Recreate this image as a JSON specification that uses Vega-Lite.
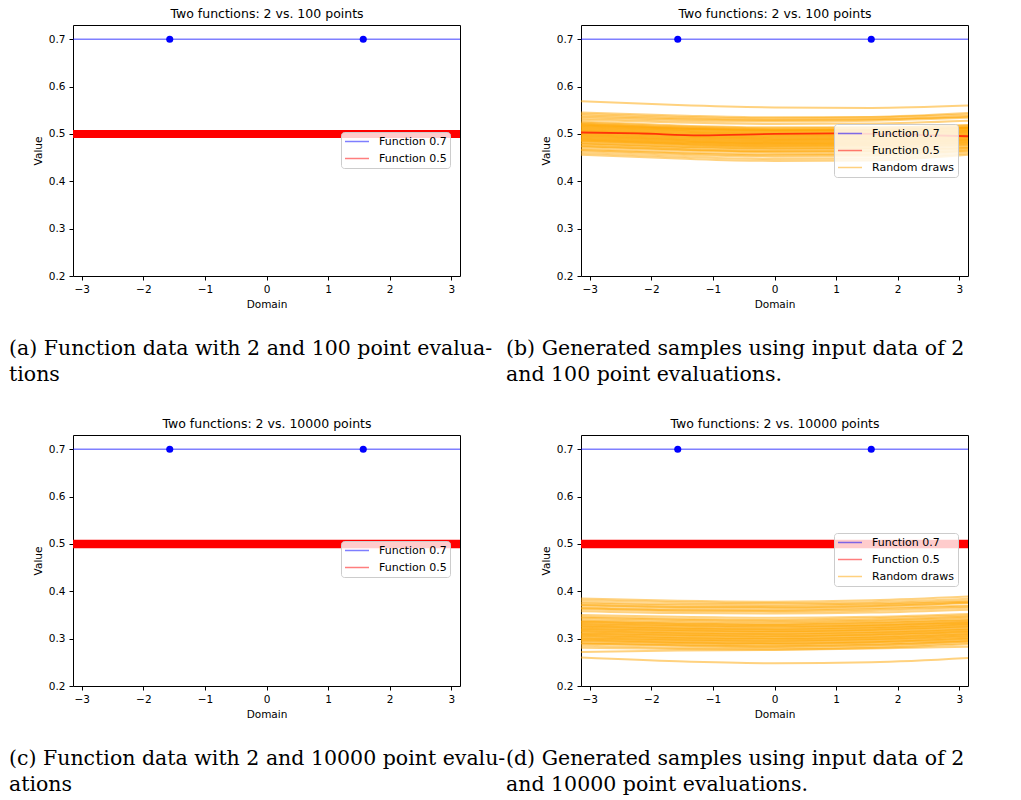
{
"$schema": "https://vega.github.io/schema/vega-lite/v6.json",
"background": "white",
"padding": {"left": 8, "top": 6, "right": 0, "bottom": 0},
"config": {
  "font": "DejaVu Sans",
  "view": {"stroke": "#000000", "strokeWidth": 1},
  "axis": {"domain": false, "grid": false, "tickColor": "#000000", "tickSize": 4, "tickWidth": 1, "labelPadding": 4, "labelFont": "DejaVu Sans", "labelFontSize": 10.5, "labelColor": "#000000", "titleFont": "DejaVu Sans", "titleFontSize": 10.5, "titleFontWeight": "normal", "titleColor": "#000000", "titlePadding": 5},
  "legend": {"fillColor": "rgba(255,255,255,0.8)", "strokeColor": "#cccccc", "cornerRadius": 3, "padding": 3, "symbolType": "stroke", "symbolSize": 576, "symbolStrokeWidth": 1.5, "symbolOpacity": 0.5, "labelFont": "DejaVu Sans", "labelFontSize": 11, "labelColor": "#000000", "labelOffset": 9, "rowPadding": 4, "clipHeight": 13, "labelLimit": 300},
  "title": {"font": "DejaVu Serif", "fontSize": 20.5, "fontWeight": "normal", "color": "#000000", "orient": "bottom", "anchor": "start", "frame": "group", "lineHeight": 26, "offset": 29}
},
"datasets": {
  "blue07": [{"x": -3.1416, "y": 0.7}, {"x": 3.1416, "y": 0.7}],
  "pts07": [{"x": -1.5708, "y": 0.7}, {"x": 1.5708, "y": 0.7}],
  "red05": [{"x": -3.1416, "y": 0.5}, {"x": 3.1416, "y": 0.5}],
  "red_b": [{"x": -3.1416, "y": 0.503}, {"x": -2.2, "y": 0.501}, {"x": -1.2, "y": 0.497}, {"x": 0, "y": 0.5}, {"x": 1, "y": 0.501}, {"x": 2, "y": 0.499}, {"x": 3.1416, "y": 0.495}],
  "draws_b": [
{"d":1,"x":-3.1416,"y":0.569},{"d":1,"x":-1.5708,"y":0.561},{"d":1,"x":0,"y":0.556},{"d":1,"x":1.5708,"y":0.555},{"d":1,"x":3.1416,"y":0.56},
{"d":2,"x":-3.1416,"y":0.545},{"d":2,"x":-1.5708,"y":0.539},{"d":2,"x":0,"y":0.535},{"d":2,"x":1.5708,"y":0.536},{"d":2,"x":3.1416,"y":0.544},
{"d":3,"x":-3.1416,"y":0.542},{"d":3,"x":-1.5708,"y":0.536},{"d":3,"x":0,"y":0.533},{"d":3,"x":1.5708,"y":0.535},{"d":3,"x":3.1416,"y":0.541},
{"d":4,"x":-3.1416,"y":0.539},{"d":4,"x":-1.5708,"y":0.533},{"d":4,"x":0,"y":0.53},{"d":4,"x":1.5708,"y":0.531},{"d":4,"x":3.1416,"y":0.536},
{"d":5,"x":-3.1416,"y":0.536},{"d":5,"x":-1.5708,"y":0.531},{"d":5,"x":0,"y":0.529},{"d":5,"x":1.5708,"y":0.531},{"d":5,"x":3.1416,"y":0.538},
{"d":6,"x":-3.1416,"y":0.533},{"d":6,"x":-1.5708,"y":0.528},{"d":6,"x":0,"y":0.526},{"d":6,"x":1.5708,"y":0.528},{"d":6,"x":3.1416,"y":0.534},
{"d":7,"x":-3.1416,"y":0.53},{"d":7,"x":-1.5708,"y":0.524},{"d":7,"x":0,"y":0.521},{"d":7,"x":1.5708,"y":0.522},{"d":7,"x":3.1416,"y":0.528},
{"d":8,"x":-3.1416,"y":0.526},{"d":8,"x":-1.5708,"y":0.518},{"d":8,"x":0,"y":0.514},{"d":8,"x":1.5708,"y":0.514},{"d":8,"x":3.1416,"y":0.518},
{"d":9,"x":-3.1416,"y":0.524},{"d":9,"x":-1.5708,"y":0.516},{"d":9,"x":0,"y":0.512},{"d":9,"x":1.5708,"y":0.513},{"d":9,"x":3.1416,"y":0.519},
{"d":10,"x":-3.1416,"y":0.522},{"d":10,"x":-1.5708,"y":0.514},{"d":10,"x":0,"y":0.51},{"d":10,"x":1.5708,"y":0.51},{"d":10,"x":3.1416,"y":0.515},
{"d":11,"x":-3.1416,"y":0.52},{"d":11,"x":-1.5708,"y":0.512},{"d":11,"x":0,"y":0.508},{"d":11,"x":1.5708,"y":0.509},{"d":11,"x":3.1416,"y":0.514},
{"d":12,"x":-3.1416,"y":0.518},{"d":12,"x":-1.5708,"y":0.511},{"d":12,"x":0,"y":0.507},{"d":12,"x":1.5708,"y":0.508},{"d":12,"x":3.1416,"y":0.513},
{"d":13,"x":-3.1416,"y":0.516},{"d":13,"x":-1.5708,"y":0.509},{"d":13,"x":0,"y":0.505},{"d":13,"x":1.5708,"y":0.506},{"d":13,"x":3.1416,"y":0.512},
{"d":14,"x":-3.1416,"y":0.514},{"d":14,"x":-1.5708,"y":0.507},{"d":14,"x":0,"y":0.503},{"d":14,"x":1.5708,"y":0.504},{"d":14,"x":3.1416,"y":0.51},
{"d":15,"x":-3.1416,"y":0.512},{"d":15,"x":-1.5708,"y":0.505},{"d":15,"x":0,"y":0.501},{"d":15,"x":1.5708,"y":0.502},{"d":15,"x":3.1416,"y":0.508},
{"d":16,"x":-3.1416,"y":0.51},{"d":16,"x":-1.5708,"y":0.503},{"d":16,"x":0,"y":0.499},{"d":16,"x":1.5708,"y":0.5},{"d":16,"x":3.1416,"y":0.506},
{"d":17,"x":-3.1416,"y":0.508},{"d":17,"x":-1.5708,"y":0.501},{"d":17,"x":0,"y":0.497},{"d":17,"x":1.5708,"y":0.498},{"d":17,"x":3.1416,"y":0.505},
{"d":18,"x":-3.1416,"y":0.506},{"d":18,"x":-1.5708,"y":0.499},{"d":18,"x":0,"y":0.495},{"d":18,"x":1.5708,"y":0.496},{"d":18,"x":3.1416,"y":0.503},
{"d":19,"x":-3.1416,"y":0.504},{"d":19,"x":-1.5708,"y":0.497},{"d":19,"x":0,"y":0.493},{"d":19,"x":1.5708,"y":0.494},{"d":19,"x":3.1416,"y":0.501},
{"d":20,"x":-3.1416,"y":0.502},{"d":20,"x":-1.5708,"y":0.495},{"d":20,"x":0,"y":0.491},{"d":20,"x":1.5708,"y":0.492},{"d":20,"x":3.1416,"y":0.499},
{"d":21,"x":-3.1416,"y":0.5},{"d":21,"x":-1.5708,"y":0.493},{"d":21,"x":0,"y":0.489},{"d":21,"x":1.5708,"y":0.49},{"d":21,"x":3.1416,"y":0.497},
{"d":22,"x":-3.1416,"y":0.498},{"d":22,"x":-1.5708,"y":0.491},{"d":22,"x":0,"y":0.487},{"d":22,"x":1.5708,"y":0.488},{"d":22,"x":3.1416,"y":0.495},
{"d":23,"x":-3.1416,"y":0.496},{"d":23,"x":-1.5708,"y":0.489},{"d":23,"x":0,"y":0.485},{"d":23,"x":1.5708,"y":0.486},{"d":23,"x":3.1416,"y":0.493},
{"d":24,"x":-3.1416,"y":0.494},{"d":24,"x":-1.5708,"y":0.487},{"d":24,"x":0,"y":0.483},{"d":24,"x":1.5708,"y":0.484},{"d":24,"x":3.1416,"y":0.491},
{"d":25,"x":-3.1416,"y":0.492},{"d":25,"x":-1.5708,"y":0.485},{"d":25,"x":0,"y":0.481},{"d":25,"x":1.5708,"y":0.482},{"d":25,"x":3.1416,"y":0.489},
{"d":26,"x":-3.1416,"y":0.49},{"d":26,"x":-1.5708,"y":0.483},{"d":26,"x":0,"y":0.479},{"d":26,"x":1.5708,"y":0.48},{"d":26,"x":3.1416,"y":0.487},
{"d":27,"x":-3.1416,"y":0.488},{"d":27,"x":-1.5708,"y":0.481},{"d":27,"x":0,"y":0.477},{"d":27,"x":1.5708,"y":0.478},{"d":27,"x":3.1416,"y":0.485},
{"d":28,"x":-3.1416,"y":0.486},{"d":28,"x":-1.5708,"y":0.479},{"d":28,"x":0,"y":0.475},{"d":28,"x":1.5708,"y":0.476},{"d":28,"x":3.1416,"y":0.483},
{"d":29,"x":-3.1416,"y":0.484},{"d":29,"x":-1.5708,"y":0.477},{"d":29,"x":0,"y":0.473},{"d":29,"x":1.5708,"y":0.474},{"d":29,"x":3.1416,"y":0.481},
{"d":30,"x":-3.1416,"y":0.481},{"d":30,"x":-1.5708,"y":0.474},{"d":30,"x":0,"y":0.47},{"d":30,"x":1.5708,"y":0.471},{"d":30,"x":3.1416,"y":0.479},
{"d":31,"x":-3.1416,"y":0.478},{"d":31,"x":-1.5708,"y":0.471},{"d":31,"x":0,"y":0.467},{"d":31,"x":1.5708,"y":0.468},{"d":31,"x":3.1416,"y":0.476},
{"d":32,"x":-3.1416,"y":0.475},{"d":32,"x":-1.5708,"y":0.468},{"d":32,"x":0,"y":0.464},{"d":32,"x":1.5708,"y":0.465},{"d":32,"x":3.1416,"y":0.473},
{"d":33,"x":-3.1416,"y":0.472},{"d":33,"x":-1.5708,"y":0.465},{"d":33,"x":0,"y":0.461},{"d":33,"x":1.5708,"y":0.462},{"d":33,"x":3.1416,"y":0.47},
{"d":34,"x":-3.1416,"y":0.468},{"d":34,"x":-1.5708,"y":0.461},{"d":34,"x":0,"y":0.457},{"d":34,"x":1.5708,"y":0.458},{"d":34,"x":3.1416,"y":0.467},
{"d":35,"x":-3.1416,"y":0.464},{"d":35,"x":-1.5708,"y":0.456},{"d":35,"x":0,"y":0.452},{"d":35,"x":1.5708,"y":0.453},{"d":35,"x":3.1416,"y":0.463},
{"d":36,"x":-3.1416,"y":0.46},{"d":36,"x":-1.5708,"y":0.452},{"d":36,"x":0,"y":0.447},{"d":36,"x":1.5708,"y":0.448},{"d":36,"x":3.1416,"y":0.459},
{"d":37,"x":-3.1416,"y":0.456},{"d":37,"x":-1.5708,"y":0.448},{"d":37,"x":0,"y":0.443},{"d":37,"x":1.5708,"y":0.444},{"d":37,"x":3.1416,"y":0.456},
{"d":38,"x":-3.1416,"y":0.521},{"d":38,"x":-1.5708,"y":0.513},{"d":38,"x":0,"y":0.509},{"d":38,"x":1.5708,"y":0.509},{"d":38,"x":3.1416,"y":0.513},
{"d":39,"x":-3.1416,"y":0.517},{"d":39,"x":-1.5708,"y":0.51},{"d":39,"x":0,"y":0.506},{"d":39,"x":1.5708,"y":0.507},{"d":39,"x":3.1416,"y":0.512},
{"d":40,"x":-3.1416,"y":0.513},{"d":40,"x":-1.5708,"y":0.506},{"d":40,"x":0,"y":0.502},{"d":40,"x":1.5708,"y":0.503},{"d":40,"x":3.1416,"y":0.509},
{"d":41,"x":-3.1416,"y":0.509},{"d":41,"x":-1.5708,"y":0.502},{"d":41,"x":0,"y":0.498},{"d":41,"x":1.5708,"y":0.499},{"d":41,"x":3.1416,"y":0.505},
{"d":42,"x":-3.1416,"y":0.505},{"d":42,"x":-1.5708,"y":0.498},{"d":42,"x":0,"y":0.494},{"d":42,"x":1.5708,"y":0.495},{"d":42,"x":3.1416,"y":0.502},
{"d":43,"x":-3.1416,"y":0.501},{"d":43,"x":-1.5708,"y":0.494},{"d":43,"x":0,"y":0.49},{"d":43,"x":1.5708,"y":0.491},{"d":43,"x":3.1416,"y":0.498},
{"d":44,"x":-3.1416,"y":0.497},{"d":44,"x":-1.5708,"y":0.49},{"d":44,"x":0,"y":0.486},{"d":44,"x":1.5708,"y":0.487},{"d":44,"x":3.1416,"y":0.494},
{"d":45,"x":-3.1416,"y":0.493},{"d":45,"x":-1.5708,"y":0.486},{"d":45,"x":0,"y":0.482},{"d":45,"x":1.5708,"y":0.483},{"d":45,"x":3.1416,"y":0.49},
{"d":46,"x":-3.1416,"y":0.489},{"d":46,"x":-1.5708,"y":0.482},{"d":46,"x":0,"y":0.478},{"d":46,"x":1.5708,"y":0.479},{"d":46,"x":3.1416,"y":0.486},
{"d":47,"x":-3.1416,"y":0.485},{"d":47,"x":-1.5708,"y":0.478},{"d":47,"x":0,"y":0.474},{"d":47,"x":1.5708,"y":0.475},{"d":47,"x":3.1416,"y":0.482},
{"d":48,"x":-3.1416,"y":0.48},{"d":48,"x":-1.5708,"y":0.473},{"d":48,"x":0,"y":0.469},{"d":48,"x":1.5708,"y":0.47},{"d":48,"x":3.1416,"y":0.477},
{"d":49,"x":-3.1416,"y":0.474},{"d":49,"x":-1.5708,"y":0.467},{"d":49,"x":0,"y":0.463},{"d":49,"x":1.5708,"y":0.464},{"d":49,"x":3.1416,"y":0.471},
{"d":50,"x":-3.1416,"y":0.466},{"d":50,"x":-1.5708,"y":0.459},{"d":50,"x":0,"y":0.455},{"d":50,"x":1.5708,"y":0.456},{"d":50,"x":3.1416,"y":0.465}
  ],
  "draws_d": [
{"d":1,"x":-3.1416,"y":0.385},{"d":1,"x":-1.5708,"y":0.38},{"d":1,"x":0,"y":0.378},{"d":1,"x":1.5708,"y":0.381},{"d":1,"x":3.1416,"y":0.389},
{"d":2,"x":-3.1416,"y":0.381},{"d":2,"x":-1.5708,"y":0.377},{"d":2,"x":0,"y":0.375},{"d":2,"x":1.5708,"y":0.377},{"d":2,"x":3.1416,"y":0.384},
{"d":3,"x":-3.1416,"y":0.377},{"d":3,"x":-1.5708,"y":0.373},{"d":3,"x":0,"y":0.372},{"d":3,"x":1.5708,"y":0.374},{"d":3,"x":3.1416,"y":0.38},
{"d":4,"x":-3.1416,"y":0.374},{"d":4,"x":-1.5708,"y":0.37},{"d":4,"x":0,"y":0.369},{"d":4,"x":1.5708,"y":0.372},{"d":4,"x":3.1416,"y":0.378},
{"d":5,"x":-3.1416,"y":0.37},{"d":5,"x":-1.5708,"y":0.366},{"d":5,"x":0,"y":0.365},{"d":5,"x":1.5708,"y":0.368},{"d":5,"x":3.1416,"y":0.375},
{"d":6,"x":-3.1416,"y":0.366},{"d":6,"x":-1.5708,"y":0.362},{"d":6,"x":0,"y":0.361},{"d":6,"x":1.5708,"y":0.364},{"d":6,"x":3.1416,"y":0.37},
{"d":7,"x":-3.1416,"y":0.362},{"d":7,"x":-1.5708,"y":0.358},{"d":7,"x":0,"y":0.357},{"d":7,"x":1.5708,"y":0.359},{"d":7,"x":3.1416,"y":0.365},
{"d":8,"x":-3.1416,"y":0.358},{"d":8,"x":-1.5708,"y":0.354},{"d":8,"x":0,"y":0.353},{"d":8,"x":1.5708,"y":0.355},{"d":8,"x":3.1416,"y":0.361},
{"d":9,"x":-3.1416,"y":0.35},{"d":9,"x":-1.5708,"y":0.346},{"d":9,"x":0,"y":0.344},{"d":9,"x":1.5708,"y":0.346},{"d":9,"x":3.1416,"y":0.352},
{"d":10,"x":-3.1416,"y":0.344},{"d":10,"x":-1.5708,"y":0.34},{"d":10,"x":0,"y":0.338},{"d":10,"x":1.5708,"y":0.34},{"d":10,"x":3.1416,"y":0.347},
{"d":11,"x":-3.1416,"y":0.341},{"d":11,"x":-1.5708,"y":0.337},{"d":11,"x":0,"y":0.335},{"d":11,"x":1.5708,"y":0.338},{"d":11,"x":3.1416,"y":0.344},
{"d":12,"x":-3.1416,"y":0.338},{"d":12,"x":-1.5708,"y":0.334},{"d":12,"x":0,"y":0.332},{"d":12,"x":1.5708,"y":0.335},{"d":12,"x":3.1416,"y":0.341},
{"d":13,"x":-3.1416,"y":0.335},{"d":13,"x":-1.5708,"y":0.331},{"d":13,"x":0,"y":0.329},{"d":13,"x":1.5708,"y":0.332},{"d":13,"x":3.1416,"y":0.338},
{"d":14,"x":-3.1416,"y":0.333},{"d":14,"x":-1.5708,"y":0.329},{"d":14,"x":0,"y":0.327},{"d":14,"x":1.5708,"y":0.329},{"d":14,"x":3.1416,"y":0.335},
{"d":15,"x":-3.1416,"y":0.33},{"d":15,"x":-1.5708,"y":0.326},{"d":15,"x":0,"y":0.324},{"d":15,"x":1.5708,"y":0.327},{"d":15,"x":3.1416,"y":0.333},
{"d":16,"x":-3.1416,"y":0.328},{"d":16,"x":-1.5708,"y":0.323},{"d":16,"x":0,"y":0.321},{"d":16,"x":1.5708,"y":0.324},{"d":16,"x":3.1416,"y":0.331},
{"d":17,"x":-3.1416,"y":0.325},{"d":17,"x":-1.5708,"y":0.321},{"d":17,"x":0,"y":0.319},{"d":17,"x":1.5708,"y":0.322},{"d":17,"x":3.1416,"y":0.329},
{"d":18,"x":-3.1416,"y":0.323},{"d":18,"x":-1.5708,"y":0.318},{"d":18,"x":0,"y":0.316},{"d":18,"x":1.5708,"y":0.319},{"d":18,"x":3.1416,"y":0.326},
{"d":19,"x":-3.1416,"y":0.32},{"d":19,"x":-1.5708,"y":0.316},{"d":19,"x":0,"y":0.314},{"d":19,"x":1.5708,"y":0.317},{"d":19,"x":3.1416,"y":0.324},
{"d":20,"x":-3.1416,"y":0.318},{"d":20,"x":-1.5708,"y":0.313},{"d":20,"x":0,"y":0.311},{"d":20,"x":1.5708,"y":0.314},{"d":20,"x":3.1416,"y":0.321},
{"d":21,"x":-3.1416,"y":0.315},{"d":21,"x":-1.5708,"y":0.311},{"d":21,"x":0,"y":0.309},{"d":21,"x":1.5708,"y":0.312},{"d":21,"x":3.1416,"y":0.319},
{"d":22,"x":-3.1416,"y":0.313},{"d":22,"x":-1.5708,"y":0.308},{"d":22,"x":0,"y":0.306},{"d":22,"x":1.5708,"y":0.309},{"d":22,"x":3.1416,"y":0.316},
{"d":23,"x":-3.1416,"y":0.31},{"d":23,"x":-1.5708,"y":0.306},{"d":23,"x":0,"y":0.304},{"d":23,"x":1.5708,"y":0.307},{"d":23,"x":3.1416,"y":0.314},
{"d":24,"x":-3.1416,"y":0.308},{"d":24,"x":-1.5708,"y":0.303},{"d":24,"x":0,"y":0.301},{"d":24,"x":1.5708,"y":0.304},{"d":24,"x":3.1416,"y":0.312},
{"d":25,"x":-3.1416,"y":0.305},{"d":25,"x":-1.5708,"y":0.301},{"d":25,"x":0,"y":0.299},{"d":25,"x":1.5708,"y":0.302},{"d":25,"x":3.1416,"y":0.309},
{"d":26,"x":-3.1416,"y":0.303},{"d":26,"x":-1.5708,"y":0.298},{"d":26,"x":0,"y":0.296},{"d":26,"x":1.5708,"y":0.299},{"d":26,"x":3.1416,"y":0.307},
{"d":27,"x":-3.1416,"y":0.3},{"d":27,"x":-1.5708,"y":0.296},{"d":27,"x":0,"y":0.294},{"d":27,"x":1.5708,"y":0.297},{"d":27,"x":3.1416,"y":0.304},
{"d":28,"x":-3.1416,"y":0.298},{"d":28,"x":-1.5708,"y":0.293},{"d":28,"x":0,"y":0.291},{"d":28,"x":1.5708,"y":0.294},{"d":28,"x":3.1416,"y":0.302},
{"d":29,"x":-3.1416,"y":0.295},{"d":29,"x":-1.5708,"y":0.291},{"d":29,"x":0,"y":0.289},{"d":29,"x":1.5708,"y":0.292},{"d":29,"x":3.1416,"y":0.299},
{"d":30,"x":-3.1416,"y":0.292},{"d":30,"x":-1.5708,"y":0.288},{"d":30,"x":0,"y":0.286},{"d":30,"x":1.5708,"y":0.289},{"d":30,"x":3.1416,"y":0.296},
{"d":31,"x":-3.1416,"y":0.289},{"d":31,"x":-1.5708,"y":0.285},{"d":31,"x":0,"y":0.283},{"d":31,"x":1.5708,"y":0.286},{"d":31,"x":3.1416,"y":0.294},
{"d":32,"x":-3.1416,"y":0.285},{"d":32,"x":-1.5708,"y":0.281},{"d":32,"x":0,"y":0.28},{"d":32,"x":1.5708,"y":0.283},{"d":32,"x":3.1416,"y":0.291},
{"d":33,"x":-3.1416,"y":0.281},{"d":33,"x":-1.5708,"y":0.278},{"d":33,"x":0,"y":0.277},{"d":33,"x":1.5708,"y":0.28},{"d":33,"x":3.1416,"y":0.288},
{"d":34,"x":-3.1416,"y":0.272},{"d":34,"x":-1.5708,"y":0.275},{"d":34,"x":0,"y":0.276},{"d":34,"x":1.5708,"y":0.279},{"d":34,"x":3.1416,"y":0.283},
{"d":35,"x":-3.1416,"y":0.26},{"d":35,"x":-1.5708,"y":0.252},{"d":35,"x":0,"y":0.248},{"d":35,"x":1.5708,"y":0.25},{"d":35,"x":3.1416,"y":0.259},
{"d":36,"x":-3.1416,"y":0.346},{"d":36,"x":-1.5708,"y":0.342},{"d":36,"x":0,"y":0.34},{"d":36,"x":1.5708,"y":0.343},{"d":36,"x":3.1416,"y":0.349},
{"d":37,"x":-3.1416,"y":0.336},{"d":37,"x":-1.5708,"y":0.332},{"d":37,"x":0,"y":0.33},{"d":37,"x":1.5708,"y":0.333},{"d":37,"x":3.1416,"y":0.339},
{"d":38,"x":-3.1416,"y":0.331},{"d":38,"x":-1.5708,"y":0.327},{"d":38,"x":0,"y":0.325},{"d":38,"x":1.5708,"y":0.328},{"d":38,"x":3.1416,"y":0.334},
{"d":39,"x":-3.1416,"y":0.326},{"d":39,"x":-1.5708,"y":0.322},{"d":39,"x":0,"y":0.32},{"d":39,"x":1.5708,"y":0.323},{"d":39,"x":3.1416,"y":0.33},
{"d":40,"x":-3.1416,"y":0.321},{"d":40,"x":-1.5708,"y":0.317},{"d":40,"x":0,"y":0.315},{"d":40,"x":1.5708,"y":0.318},{"d":40,"x":3.1416,"y":0.325},
{"d":41,"x":-3.1416,"y":0.316},{"d":41,"x":-1.5708,"y":0.312},{"d":41,"x":0,"y":0.31},{"d":41,"x":1.5708,"y":0.313},{"d":41,"x":3.1416,"y":0.32},
{"d":42,"x":-3.1416,"y":0.311},{"d":42,"x":-1.5708,"y":0.307},{"d":42,"x":0,"y":0.305},{"d":42,"x":1.5708,"y":0.308},{"d":42,"x":3.1416,"y":0.315},
{"d":43,"x":-3.1416,"y":0.306},{"d":43,"x":-1.5708,"y":0.302},{"d":43,"x":0,"y":0.3},{"d":43,"x":1.5708,"y":0.303},{"d":43,"x":3.1416,"y":0.31},
{"d":44,"x":-3.1416,"y":0.301},{"d":44,"x":-1.5708,"y":0.297},{"d":44,"x":0,"y":0.295},{"d":44,"x":1.5708,"y":0.298},{"d":44,"x":3.1416,"y":0.305},
{"d":45,"x":-3.1416,"y":0.296},{"d":45,"x":-1.5708,"y":0.292},{"d":45,"x":0,"y":0.29},{"d":45,"x":1.5708,"y":0.293},{"d":45,"x":3.1416,"y":0.3},
{"d":46,"x":-3.1416,"y":0.29},{"d":46,"x":-1.5708,"y":0.286},{"d":46,"x":0,"y":0.284},{"d":46,"x":1.5708,"y":0.287},{"d":46,"x":3.1416,"y":0.295},
{"d":47,"x":-3.1416,"y":0.371},{"d":47,"x":-1.5708,"y":0.367},{"d":47,"x":0,"y":0.366},{"d":47,"x":1.5708,"y":0.369},{"d":47,"x":3.1416,"y":0.376},
{"d":48,"x":-3.1416,"y":0.364},{"d":48,"x":-1.5708,"y":0.36},{"d":48,"x":0,"y":0.359},{"d":48,"x":1.5708,"y":0.362},{"d":48,"x":3.1416,"y":0.368}
  ]
},
"columns": 2,
"bounds": "flush",
"spacing": {"row": 159, "column": 121},
"resolve": {"scale": {"color": "independent"}, "legend": {"color": "independent"}},
"concat": [
 {
  "width": 387, "height": 251,
  "title": {"text": ["(a) Function data with 2 and 100 point evalua-", "tions"], "dx": -64},
  "resolve": {"axis": {"x": "independent"}},
  "layer": [
   {"data": {"name": "blue07"}, "mark": {"type": "line", "strokeWidth": 1.5, "opacity": 0.5},
    "encoding": {
     "x": {"field": "x", "type": "quantitative", "scale": {"domain": [-3.1416, 3.1416], "nice": false, "zero": false}, "axis": {"orient": "bottom", "title": "Domain", "values": [-3, -2, -1, 0, 1, 2, 3]}},
     "y": {"field": "y", "type": "quantitative", "scale": {"domain": [0.2, 0.73], "nice": false, "zero": false}, "axis": {"title": "Value", "values": [0.2, 0.3, 0.4, 0.5, 0.6, 0.7], "format": ".1f"}},
     "color": {"datum": "Function 0.7", "type": "nominal", "scale": {"domain": ["Function 0.7", "Function 0.5"], "range": ["#0000ff", "#ff0000"]}, "legend": {"title": null, "orient": "none", "legendX": 268, "legendY": 107}}
    }},
   {"data": {"name": "red05"}, "mark": {"type": "line", "strokeWidth": 1.5, "opacity": 0.5},
    "encoding": {"x": {"field": "x", "type": "quantitative", "axis": null}, "y": {"field": "y", "type": "quantitative"}, "color": {"datum": "Function 0.5", "type": "nominal"}}},
   {"data": {"name": "red05"}, "mark": {"type": "line", "strokeWidth": 8, "color": "#ff0000"},
    "encoding": {"x": {"field": "x", "type": "quantitative", "axis": null}, "y": {"field": "y", "type": "quantitative"}}},
   {"data": {"name": "pts07"}, "mark": {"type": "point", "filled": true, "size": 50, "color": "#0000ff", "opacity": 1},
    "encoding": {"x": {"field": "x", "type": "quantitative", "axis": {"orient": "top", "title": "Two functions: 2 vs. 100 points", "labels": false, "ticks": false, "domain": false, "titleFontSize": 12.5, "titlePadding": 5}}, "y": {"field": "y", "type": "quantitative"}}}
  ]
 },
 {
  "width": 387, "height": 251,
  "title": {"text": ["(b) Generated samples using input data of 2", "and 100 point evaluations."], "dx": -75},
  "resolve": {"axis": {"x": "independent"}},
  "layer": [
   {"data": {"name": "blue07"}, "mark": {"type": "line", "strokeWidth": 1.5, "opacity": 0.5},
    "encoding": {
     "x": {"field": "x", "type": "quantitative", "scale": {"domain": [-3.1416, 3.1416], "nice": false, "zero": false}, "axis": {"orient": "bottom", "title": "Domain", "values": [-3, -2, -1, 0, 1, 2, 3]}},
     "y": {"field": "y", "type": "quantitative", "scale": {"domain": [0.2, 0.73], "nice": false, "zero": false}, "axis": {"title": "Value", "values": [0.2, 0.3, 0.4, 0.5, 0.6, 0.7], "format": ".1f"}},
     "color": {"datum": "Function 0.7", "type": "nominal", "scale": {"domain": ["Function 0.7", "Function 0.5", "Random draws"], "range": ["#0000ff", "#ff0000", "#ffa500"]}, "legend": {"title": null, "orient": "none", "legendX": 253, "legendY": 99}}
    }},
   {"data": {"name": "draws_b"}, "mark": {"type": "line", "strokeWidth": 2, "opacity": 0.5, "interpolate": "monotone"},
    "encoding": {"x": {"field": "x", "type": "quantitative", "axis": null}, "y": {"field": "y", "type": "quantitative"}, "detail": {"field": "d", "type": "nominal"}, "color": {"datum": "Random draws", "type": "nominal"}}},
   {"data": {"name": "red_b"}, "mark": {"type": "line", "strokeWidth": 1.8, "opacity": 0.7, "interpolate": "monotone"},
    "encoding": {"x": {"field": "x", "type": "quantitative", "axis": null}, "y": {"field": "y", "type": "quantitative"}, "color": {"datum": "Function 0.5", "type": "nominal"}}},
   {"data": {"name": "pts07"}, "mark": {"type": "point", "filled": true, "size": 50, "color": "#0000ff", "opacity": 1},
    "encoding": {"x": {"field": "x", "type": "quantitative", "axis": {"orient": "top", "title": "Two functions: 2 vs. 100 points", "labels": false, "ticks": false, "domain": false, "titleFontSize": 12.5, "titlePadding": 5}}, "y": {"field": "y", "type": "quantitative"}}}
  ]
 },
 {
  "width": 387, "height": 251,
  "title": {"text": ["(c) Function data with 2 and 10000 point evalu-", "ations"], "dx": -64},
  "resolve": {"axis": {"x": "independent"}},
  "layer": [
   {"data": {"name": "blue07"}, "mark": {"type": "line", "strokeWidth": 1.5, "opacity": 0.5},
    "encoding": {
     "x": {"field": "x", "type": "quantitative", "scale": {"domain": [-3.1416, 3.1416], "nice": false, "zero": false}, "axis": {"orient": "bottom", "title": "Domain", "values": [-3, -2, -1, 0, 1, 2, 3]}},
     "y": {"field": "y", "type": "quantitative", "scale": {"domain": [0.2, 0.73], "nice": false, "zero": false}, "axis": {"title": "Value", "values": [0.2, 0.3, 0.4, 0.5, 0.6, 0.7], "format": ".1f"}},
     "color": {"datum": "Function 0.7", "type": "nominal", "scale": {"domain": ["Function 0.7", "Function 0.5"], "range": ["#0000ff", "#ff0000"]}, "legend": {"title": null, "orient": "none", "legendX": 268, "legendY": 106}}
    }},
   {"data": {"name": "red05"}, "mark": {"type": "line", "strokeWidth": 1.5, "opacity": 0.5},
    "encoding": {"x": {"field": "x", "type": "quantitative", "axis": null}, "y": {"field": "y", "type": "quantitative"}, "color": {"datum": "Function 0.5", "type": "nominal"}}},
   {"data": {"name": "red05"}, "mark": {"type": "line", "strokeWidth": 8.5, "color": "#ff0000"},
    "encoding": {"x": {"field": "x", "type": "quantitative", "axis": null}, "y": {"field": "y", "type": "quantitative"}}},
   {"data": {"name": "pts07"}, "mark": {"type": "point", "filled": true, "size": 50, "color": "#0000ff", "opacity": 1},
    "encoding": {"x": {"field": "x", "type": "quantitative", "axis": {"orient": "top", "title": "Two functions: 2 vs. 10000 points", "labels": false, "ticks": false, "domain": false, "titleFontSize": 12.5, "titlePadding": 5}}, "y": {"field": "y", "type": "quantitative"}}}
  ]
 },
 {
  "width": 387, "height": 251,
  "title": {"text": ["(d) Generated samples using input data of 2", "and 10000 point evaluations."], "dx": -75},
  "resolve": {"axis": {"x": "independent"}},
  "layer": [
   {"data": {"name": "blue07"}, "mark": {"type": "line", "strokeWidth": 1.5, "opacity": 0.5},
    "encoding": {
     "x": {"field": "x", "type": "quantitative", "scale": {"domain": [-3.1416, 3.1416], "nice": false, "zero": false}, "axis": {"orient": "bottom", "title": "Domain", "values": [-3, -2, -1, 0, 1, 2, 3]}},
     "y": {"field": "y", "type": "quantitative", "scale": {"domain": [0.2, 0.73], "nice": false, "zero": false}, "axis": {"title": "Value", "values": [0.2, 0.3, 0.4, 0.5, 0.6, 0.7], "format": ".1f"}},
     "color": {"datum": "Function 0.7", "type": "nominal", "scale": {"domain": ["Function 0.7", "Function 0.5", "Random draws"], "range": ["#0000ff", "#ff0000", "#ffa500"]}, "legend": {"title": null, "orient": "none", "legendX": 253, "legendY": 98}}
    }},
   {"data": {"name": "draws_d"}, "mark": {"type": "line", "strokeWidth": 2, "opacity": 0.5, "interpolate": "monotone"},
    "encoding": {"x": {"field": "x", "type": "quantitative", "axis": null}, "y": {"field": "y", "type": "quantitative"}, "detail": {"field": "d", "type": "nominal"}, "color": {"datum": "Random draws", "type": "nominal"}}},
   {"data": {"name": "red05"}, "mark": {"type": "line", "strokeWidth": 1.5, "opacity": 0.5},
    "encoding": {"x": {"field": "x", "type": "quantitative", "axis": null}, "y": {"field": "y", "type": "quantitative"}, "color": {"datum": "Function 0.5", "type": "nominal"}}},
   {"data": {"name": "red05"}, "mark": {"type": "line", "strokeWidth": 8.5, "color": "#ff0000"},
    "encoding": {"x": {"field": "x", "type": "quantitative", "axis": null}, "y": {"field": "y", "type": "quantitative"}}},
   {"data": {"name": "pts07"}, "mark": {"type": "point", "filled": true, "size": 50, "color": "#0000ff", "opacity": 1},
    "encoding": {"x": {"field": "x", "type": "quantitative", "axis": {"orient": "top", "title": "Two functions: 2 vs. 10000 points", "labels": false, "ticks": false, "domain": false, "titleFontSize": 12.5, "titlePadding": 5}}, "y": {"field": "y", "type": "quantitative"}}}
  ]
 }
]
}
